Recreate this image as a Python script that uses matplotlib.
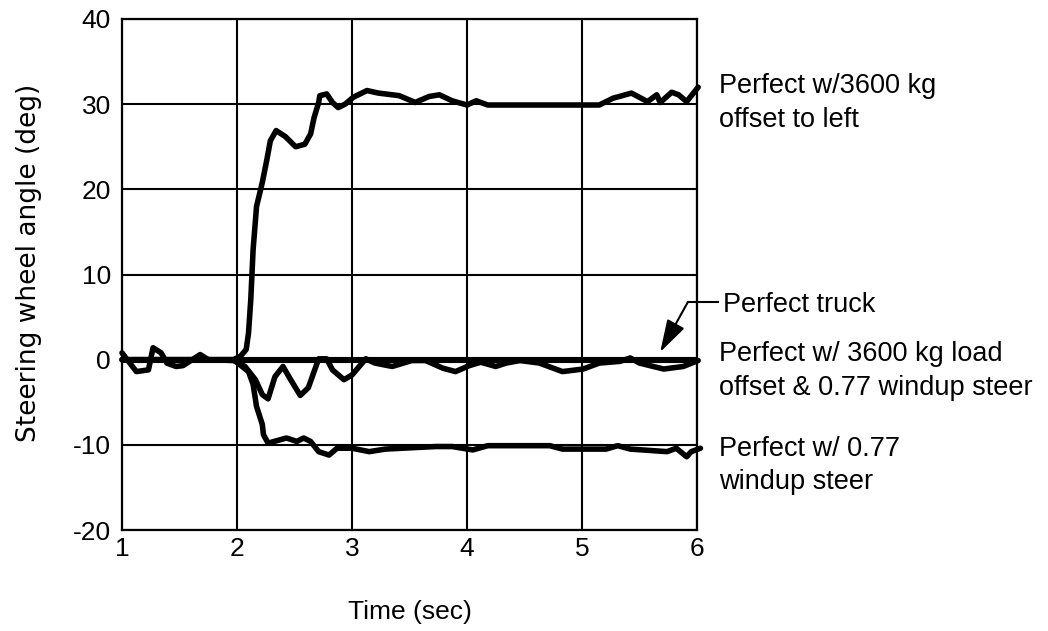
import matplotlib
matplotlib.use("Agg")
import matplotlib.pyplot as plt
from matplotlib.patches import FancyArrowPatch

# ---- data ----
t_truck = [1.0, 6.0]
v_truck = [0.0, 0.0]

t_left = [1.0, 1.97, 2.03, 2.08, 2.10, 2.12, 2.14, 2.17, 2.22, 2.26, 2.29, 2.34, 2.42, 2.51,
          2.59, 2.64, 2.67, 2.71, 2.72, 2.78, 2.83, 2.88, 2.94, 3.01, 3.13, 3.23, 3.41, 3.55,
          3.67, 3.76, 3.87, 4.00, 4.08, 4.18, 4.40, 4.80, 5.15, 5.27, 5.43, 5.50, 5.57, 5.65,
          5.68, 5.78, 5.84, 5.91, 6.01]
v_left = [0.0, 0.0, 0.4, 1.2, 3.1, 7.1, 12.9, 18.0, 20.8, 23.5, 25.7, 26.9, 26.2, 25.0,
          25.3, 26.5, 28.4, 30.2, 31.0, 31.2, 30.2, 29.6, 30.0, 30.8, 31.6, 31.3, 31.0, 30.2,
          30.9, 31.1, 30.4, 29.9, 30.4, 29.9, 29.9, 29.9, 29.9, 30.7, 31.3, 30.8, 30.3, 31.1,
          30.2, 31.4, 31.1, 30.3, 32.0]

t_both = [1.0, 1.125, 1.23, 1.27, 1.34, 1.39, 1.47, 1.53, 1.68, 1.75, 1.97, 2.07, 2.16,
          2.22, 2.27, 2.33, 2.40, 2.46, 2.55, 2.62, 2.71, 2.78, 2.83, 2.93, 3.00, 3.12,
          3.20, 3.35, 3.52, 3.64, 3.79, 3.90, 4.02, 4.12, 4.25, 4.34, 4.46, 4.63, 4.83,
          5.01, 5.15, 5.33, 5.42, 5.50, 5.71, 5.88, 6.01]
v_both = [0.8, -1.4, -1.2, 1.4, 0.8, -0.4, -0.8, -0.7, 0.6, 0.0, -0.1, -0.8, -2.35,
          -4.1, -4.6, -2.0, -0.8, -2.2, -4.2, -3.3, 0.1, 0.1, -1.2, -2.35, -1.8, 0.1,
          -0.4, -0.8, -0.1, -0.1, -1.0, -1.4, -0.7, -0.3, -0.8, -0.4, -0.1, -0.4, -1.4,
          -1.1, -0.4, -0.2, 0.2, -0.4, -1.1, -0.8, -0.1]

t_windup = [1.0, 1.97, 2.10, 2.14, 2.17, 2.22, 2.23, 2.27, 2.43, 2.52, 2.58, 2.64, 2.71,
            2.80, 2.87, 3.00, 3.15, 3.29, 3.58, 3.73, 3.87, 4.05, 4.18, 4.72, 4.83, 5.04,
            5.21, 5.31, 5.42, 5.74, 5.82, 5.91, 5.95, 6.03]
v_windup = [0.0, 0.0, -1.4, -2.9, -5.5, -7.6, -8.8, -9.8, -9.2, -9.6, -9.2, -9.6, -10.8,
            -11.2, -10.4, -10.4, -10.8, -10.5, -10.3, -10.2, -10.2, -10.6, -10.1, -10.1,
            -10.5, -10.5, -10.5, -10.1, -10.5, -10.8, -10.4, -11.4, -10.8, -10.4]

x_ticks = [1, 2, 3, 4, 5, 6]
y_ticks = [-20, -10, 0, 10, 20, 30, 40]

# ---- figure ----
plt.rcParams['font.family'] = ['Liberation Sans', 'DejaVu Sans']
fig = plt.figure(figsize=(10.48, 6.31), dpi=100)
ax = fig.add_axes([122 / 1048, 101 / 631, 575 / 1048, 511 / 631])

ax.set_xlim(1, 6)
ax.set_ylim(-20, 40)
ax.set_xticks(x_ticks)
ax.set_yticks(y_ticks)
ax.set_xticklabels([str(v) for v in x_ticks])
ax.set_yticklabels([str(v) for v in y_ticks])
ax.tick_params(length=0, labelsize=19, colors='black')
ax.tick_params(axis='x', pad=5)
ax.tick_params(axis='y', pad=8)
for s in ax.spines.values():
    s.set_linewidth(1.6)
    s.set_color('black')
ax.grid(True, color='black', linewidth=1.5)
ax.set_axisbelow(True)

lw = 4.0
ax.plot(t_truck, v_truck, color='black', lw=4.4, solid_capstyle='butt', zorder=3)
ax.plot(t_windup, v_windup, color='black', lw=lw, solid_capstyle='round',
        solid_joinstyle='round', zorder=4, clip_on=False)
ax.plot(t_both, v_both, color='black', lw=lw, solid_capstyle='round',
        solid_joinstyle='round', zorder=4, clip_on=False)
ax.plot(t_left, v_left, color='black', lw=lw, solid_capstyle='round',
        solid_joinstyle='round', zorder=4, clip_on=False)

ax.set_xlabel('Time (sec)', fontsize=19, labelpad=28)
ax.set_ylabel('Steering wheel angle (deg)', fontsize=19, family='DejaVu Sans')
ax.yaxis.set_label_coords(-0.139, 0.5225)

fs = 19.5
tx = 6.19
ax.text(tx, 31.3, 'Perfect w/3600 kg', fontsize=fs, va='baseline', ha='left', clip_on=False)
ax.text(tx, 27.3, 'offset to left', fontsize=fs, va='baseline', ha='left', clip_on=False)
ax.text(6.23, 5.6, 'Perfect truck', fontsize=fs, va='baseline', ha='left', clip_on=False)
ax.text(tx, -0.1, 'Perfect w/ 3600 kg load', fontsize=fs, va='baseline', ha='left', clip_on=False)
ax.text(tx, -4.1, 'offset & 0.77 windup steer', fontsize=fs, va='baseline', ha='left', clip_on=False)
ax.text(tx, -11.3, 'Perfect w/ 0.77', fontsize=fs, va='baseline', ha='left', clip_on=False)
ax.text(tx, -15.2, 'windup steer', fontsize=fs, va='baseline', ha='left', clip_on=False)

# leader for "Perfect truck"
ax.plot([5.92, 6.18], [6.75, 6.75], color='black', lw=1.5, clip_on=False)
arr = FancyArrowPatch((5.92, 6.75), (5.68, 0.9), arrowstyle='-|>,head_length=1.0,head_width=0.3',
                      mutation_scale=20, color='black', lw=1.5, shrinkA=0, shrinkB=0,
                      clip_on=False, zorder=5)
ax.add_patch(arr)

fig.savefig('out.png', dpi=100)
